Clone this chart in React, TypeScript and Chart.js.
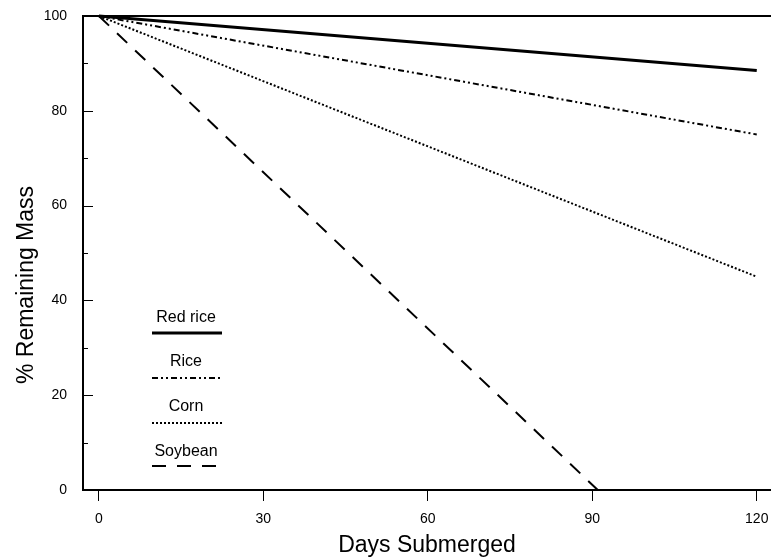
import React, { useEffect, useRef } from "react";
import { Chart, registerables } from "chart.js";
Chart.register(...registerables);

const seriesNames = ["Red rice", "Rice", "Corn", "Soybean"];
const days = [0, 120];
const redRice = [100, 88.5];
const rice = [100, 75];
const corn = [100, 45];
const soybeanDays = [0, 91];
const soybean = [100, 0];
const xTicks = [0, 30, 60, 90, 120];
const yTicks = [0, 20, 40, 60, 80, 100];
const yMinorTicks = [10, 30, 50, 70, 90];
const xTitle = "Days Submerged";
const yTitle = "% Remaining Mass";

const FONT = '"Liberation Sans", Arial, Helvetica, sans-serif';
const dashes = [[], [6, 3, 2, 3, 2, 3], [2, 2], [14, 11]];
const widths = [2.8, 2, 2, 2];

const toPts = (xs: number[], ys: number[]) => xs.map((x, i) => ({ x, y: ys[i] }));

const decor = {
  id: "decor",
  afterDraw(chart: any) {
    const { ctx, chartArea, scales } = chart;
    const ys = scales.y;
    ctx.save();
    ctx.strokeStyle = "#000";
    ctx.fillStyle = "#000";
    ctx.lineWidth = 1;
    ctx.setLineDash([]);
    yTicks.forEach((v) => {
      const y = Math.round(ys.getPixelForValue(v)) + 0.5;
      ctx.beginPath();
      ctx.moveTo(chartArea.left, y);
      ctx.lineTo(chartArea.left + 10, y);
      ctx.stroke();
    });
    yMinorTicks.forEach((v) => {
      const y = Math.round(ys.getPixelForValue(v)) + 0.5;
      ctx.beginPath();
      ctx.moveTo(chartArea.left, y);
      ctx.lineTo(chartArea.left + 5, y);
      ctx.stroke();
    });
    ctx.lineWidth = 2;
    const yt = ys.getPixelForValue(100);
    ctx.beginPath();
    ctx.moveTo(chartArea.left, yt);
    ctx.lineTo(chartArea.right, yt);
    ctx.stroke();
    const textY = [318, 362, 407, 452];
    const lineY = [333, 378, 423, 466];
    ctx.font = `16px ${FONT}`;
    ctx.textAlign = "center";
    ctx.textBaseline = "middle";
    seriesNames.forEach((name, i) => {
      ctx.setLineDash([]);
      ctx.fillText(name, 186, textY[i]);
      ctx.setLineDash(dashes[i]);
      ctx.lineWidth = widths[i];
      ctx.beginPath();
      ctx.moveTo(152, lineY[i]);
      ctx.lineTo(222, lineY[i]);
      ctx.stroke();
    });
    ctx.setLineDash([]);
    ctx.translate(27, 285);
    ctx.rotate(-Math.PI / 2);
    ctx.font = `23px ${FONT}`;
    ctx.textAlign = "center";
    ctx.textBaseline = "middle";
    ctx.fillText(yTitle, 0, 0);
    ctx.restore();
  },
};

export default function App() {
  const ref = useRef<HTMLCanvasElement>(null);
  useEffect(() => {
    if (!ref.current) return;
    Chart.defaults.font.family = FONT;
    const seriesData = [
      toPts(days, redRice),
      toPts(days, rice),
      toPts(days, corn),
      toPts(soybeanDays, soybean),
    ];
    const chart = new Chart(ref.current, {
      type: "scatter",
      data: {
        datasets: seriesNames.map((name, i) => ({
          label: name,
          data: seriesData[i],
          showLine: true,
          borderColor: "#000",
          backgroundColor: "#000",
          borderWidth: widths[i],
          borderDash: dashes[i],
          pointRadius: 0,
          fill: false,
          clip: false as any,
        })),
      },
      options: {
        animation: false,
        responsive: false,
        maintainAspectRatio: false,
        layout: { padding: { top: 16, right: 0, left: 0, bottom: 0 } },
        plugins: { legend: { display: false }, tooltip: { enabled: false } },
        scales: {
          x: {
            type: "linear",
            min: -2.9,
            max: 122.6,
            afterBuildTicks: (s: any) => {
              s.ticks = xTicks.map((v) => ({ value: v }));
            },
            afterFit: (s: any) => {
              s.height = 69;
              s.paddingRight = 0;
              s.paddingLeft = 0;
            },
            grid: { drawOnChartArea: false, drawTicks: true, tickLength: 11, color: "#000", lineWidth: 1 },
            border: { display: true, color: "#000", width: 2 },
            ticks: { color: "#000", font: { size: 14 }, padding: 10, maxRotation: 0, autoSkip: false },
            title: { display: true, text: xTitle, color: "#000", font: { size: 23 }, padding: { top: 0, bottom: 0 } },
          },
          y: {
            type: "linear",
            min: 0,
            max: 100,
            afterBuildTicks: (s: any) => {
              s.ticks = yTicks.map((v) => ({ value: v }));
            },
            afterFit: (s: any) => {
              s.width = 83;
              s.paddingTop = 0;
              s.paddingBottom = 0;
            },
            grid: { display: false, drawTicks: false },
            border: { display: true, color: "#000", width: 2 },
            ticks: { color: "#000", font: { size: 14 }, padding: 16, autoSkip: false },
          },
        },
      },
      plugins: [decor],
    } as any);
    return () => chart.destroy();
  }, []);
  return (
    <div style={{ position: "fixed", left: 0, top: 0, width: 771, height: 559, background: "#fff" }}>
      <canvas ref={ref} width={771} height={559} style={{ width: 771, height: 559, display: "block" }} />
    </div>
  );
}
